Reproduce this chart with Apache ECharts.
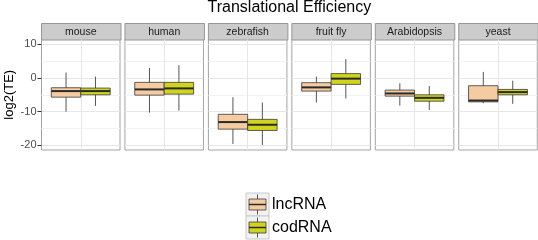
<!DOCTYPE html>
<html><head><meta charset="utf-8">
<script src="https://cdn.jsdelivr.net/npm/echarts@6/dist/echarts.min.js"></script>
<style>html,body{margin:0;padding:0;background:#fff}#c{width:538px;height:240px}</style>
</head><body><div id="c"></div>
<script>
// ---- data ----
const species = ['mouse', 'human', 'zebrafish', 'fruit fly', 'Arabidopsis', 'yeast'];
const groups = ['lncRNA', 'codRNA'];
// [lower whisker, Q1, median, Q3, upper whisker]
const lncStats = [
  [-10.0, -5.7, -3.9, -2.9, 1.6],
  [-10.3, -5.1, -3.4, -1.3, 3.0],
  [-19.6, -15.2, -13.1, -10.8, -5.7],
  [-7.3, -3.9, -2.8, -1.4, 0.4],
  [-8.2, -5.4, -4.6, -3.6, -1.6],
  [-7.5, -7.1, -6.7, -2.3, 1.8]
];
const codStats = [
  [-8.3, -5.0, -3.9, -3.0, 0.4],
  [-9.7, -4.8, -3.1, -1.3, 3.8],
  [-19.9, -15.6, -13.9, -12.3, -7.3],
  [-6.1, -1.9, -0.2, 1.3, 5.6],
  [-9.5, -6.9, -5.9, -5.0, -2.4],
  [-7.7, -5.0, -4.2, -3.4, -0.8]
];
const yTicks = [-20, -10, 0, 10];
const yMinor = [-15, -5, 5];
const yRange = [-21.4, 11.43];

// ---- style / layout ----
const FONT = "'Liberation Sans', Arial, Helvetica, sans-serif";
const FILL = ['#F5CBA2', '#D0D51C'];
const P0 = 41.5, STEP = 83.45, PW = 78.5, GT = 39.5, GH = 110.5, ST = 23, SH = 16.5;

const grids = [], xAxes = [], yAxes = [], series = [], graphics = [];

function makeRender(side, fill) {
  return function (params, api) {
    const c = api.coord([api.value(0), api.value(3)]);
    const bw = api.size([1, 0])[0];
    const half = bw * 0.375;
    const x0 = side === 0 ? c[0] - half : c[0];
    const x1 = x0 + half;
    const xm = (x0 + x1) / 2;
    const y = k => api.coord([api.value(0), api.value(k)])[1];
    const yLo = y(1), yQ1 = y(2), yMed = y(3), yQ3 = y(4), yHi = y(5);
    return {
      type: 'group',
      children: [
        { type: 'line', shape: { x1: xm, y1: yHi, x2: xm, y2: yLo }, style: { stroke: '#555', lineWidth: 1 } },
        { type: 'rect', shape: { x: x0, y: yQ3, width: half, height: yQ1 - yQ3 }, style: { fill: fill, stroke: '#3a3a3a', lineWidth: 0.8 } },
        { type: 'line', shape: { x1: x0, y1: yMed, x2: x1, y2: yMed }, style: { stroke: '#2a2a2a', lineWidth: 2 } }
      ]
    };
  };
}

species.forEach((sp, i) => {
  const left = P0 + i * STEP;
  grids.push({ left: left, top: GT, width: PW, height: GH, show: true, backgroundColor: '#fff', borderColor: '#A3A3A3', borderWidth: 1, containLabel: false });
  xAxes.push({
    type: 'category', gridIndex: i, data: [''],
    axisLine: { show: false },
    axisTick: { show: true, alignWithLabel: true, length: 4, lineStyle: { color: '#333', width: 1 } },
    axisLabel: { show: false },
    splitLine: { show: false }
  });
  yAxes.push({
    type: 'value', gridIndex: i, min: yRange[0], max: yRange[1],
    axisLine: { show: false },
    axisTick: { show: i === 0, length: 4, customValues: yTicks, lineStyle: { color: '#333' } },
    axisLabel: { show: i === 0, customValues: yTicks, color: '#4D4D4D', fontSize: 11, fontFamily: FONT, margin: 5 },
    splitLine: { show: true, lineStyle: { color: '#E6E6E6', width: 1 } },
    name: i === 0 ? 'log2(TE)' : '',
    nameLocation: 'middle', nameRotate: 90, nameGap: 26,
    nameTextStyle: { fontSize: 13, fontFamily: FONT, color: '#000' }
  });
  series.push({
    type: 'custom', name: 'grid' + i, xAxisIndex: i, yAxisIndex: i, data: [],
    renderItem: () => null, silent: true, z: 1,
    markLine: {
      silent: true, symbol: 'none', z: 1, animation: false,
      label: { show: false },
      data: yMinor.map(v => ({ yAxis: v, lineStyle: { color: '#F2F2F2', width: 1, type: 'solid' } }))
        .concat([{ xAxis: 0, lineStyle: { color: '#E6E6E6', width: 1, type: 'solid' } }])
    }
  });
  [lncStats, codStats].forEach((arr, g) => {
    series.push({
      type: 'custom', name: groups[g], xAxisIndex: i, yAxisIndex: i, z: 3,
      encode: { x: 0, y: [1, 2, 3, 4, 5] },
      data: [[0].concat(arr[i])],
      renderItem: makeRender(g, FILL[g]),
      animation: false
    });
  });
  graphics.push({
    type: 'rect', left: left - 0.5, top: ST, shape: { width: PW + 1, height: SH },
    style: { fill: '#CCCCCC', stroke: '#969696', lineWidth: 1 }
  });
  graphics.push({
    type: 'text', x: left + PW / 2, y: ST + SH / 2 + 0.5,
    style: { text: sp, fill: '#1A1A1A', font: '10.5px ' + FONT, textAlign: 'center', textVerticalAlign: 'middle' }
  });
});

// title
graphics.push({
  type: 'text', x: P0 + (5 * STEP + PW) / 2, y: 8,
  style: { text: 'Translational Efficiency', fill: '#000', font: '16px ' + FONT, textAlign: 'center', textVerticalAlign: 'middle' }
});

// legend
groups.forEach((g, k) => {
  const ky = 193 + k * 23;
  const kx = 246;
  graphics.push({ type: 'rect', shape: { x: kx, y: ky, width: 23, height: 23 }, style: { fill: '#F2F2F2', stroke: '#C8C8C8', lineWidth: 1 } });
  graphics.push({ type: 'line', shape: { x1: kx + 11.5, y1: ky + 1.5, x2: kx + 11.5, y2: ky + 21.5 }, style: { stroke: '#555', lineWidth: 1 } });
  graphics.push({ type: 'rect', shape: { x: kx + 3, y: ky + 6, width: 17, height: 11 }, style: { fill: FILL[k], stroke: '#3a3a3a', lineWidth: 0.8 } });
  graphics.push({ type: 'line', shape: { x1: kx + 3, y1: ky + 11.5, x2: kx + 20, y2: ky + 11.5 }, style: { stroke: '#2a2a2a', lineWidth: 1.5 } });
  graphics.push({ type: 'text', x: 272, y: ky + 12, style: { text: g, fill: '#000', font: '16px ' + FONT, textAlign: 'left', textVerticalAlign: 'middle' } });
});

const chart = echarts.init(document.getElementById('c'), null, { renderer: 'canvas' });
chart.setOption({
  animation: false,
  backgroundColor: '#fff',
  grid: grids, xAxis: xAxes, yAxis: yAxes, series: series,
  graphic: { elements: graphics }
});
</script>
</body></html>
